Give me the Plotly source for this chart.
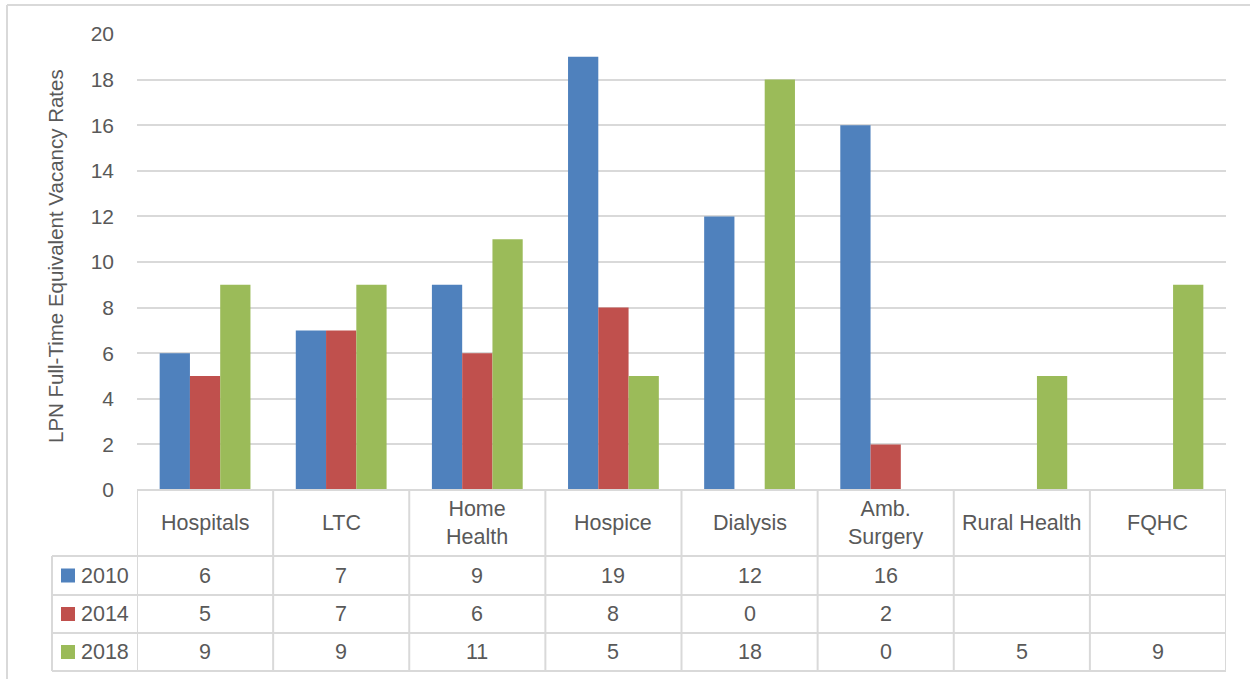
import plotly.graph_objects as go

# Facility categories (axis / table header labels)
categories = ["Hospitals", "LTC", "Home Health", "Hospice", "Dialysis",
              "Amb. Surgery", "Rural Health", "FQHC"]
header_labels = ["Hospitals", "LTC", "Home<br>Health", "Hospice", "Dialysis",
                 "Amb.<br>Surgery", "Rural Health", "FQHC"]

# LPN full-time equivalent vacancy rates per survey year
years = ["2010", "2014", "2018"]
rates_2010 = [6, 7, 9, 19, 12, 16, None, None]
rates_2014 = [5, 7, 6, 8, 0, 2, None, None]
rates_2018 = [9, 9, 11, 5, 18, 0, 5, 9]
series = [rates_2010, rates_2014, rates_2018]
colors = ["#4F81BD", "#C0504D", "#9BBB59"]

y_ticks = list(range(0, 21, 2))

W, H = 1250, 679
L, R, T, B = 137, 24, 34, 189
PH = H - T - B          # plot height in px
PW = W - L - R          # plot width in px
FONT = "Liberation Sans, Arial, sans-serif"
TXT = "#595959"
GRID = "#d9d9d9"
TABLE_SIZE = 21.5
TICK_SIZE = 21
TITLE_SIZE = 20.5


def py(p):
    """pixel row -> paper y"""
    return (H - B - p) / PH


def px(q):
    """pixel column -> paper x"""
    return (q - L) / PW


fig = go.Figure()
for name, vals, col in zip(years, series, colors):
    fig.add_trace(go.Bar(
        x=categories, y=vals, name=name,
        marker=dict(color=col, line=dict(width=0)),
        showlegend=False,
    ))

shapes = []
annotations = []

# data table rows (pixel rows of horizontal rules)
row_lines = [556, 595, 633, 671]
header_top = H - B
line_style = dict(color=GRID, width=2)

# horizontal rules, including the legend column
for p in row_lines:
    shapes.append(dict(type="line", xref="paper", yref="paper",
                       x0=px(52), x1=1, y0=py(p), y1=py(p), line=line_style))
# header row top (axis baseline)
shapes.append(dict(type="line", xref="paper", yref="paper",
                   x0=0, x1=1, y0=py(header_top), y1=py(header_top),
                   line=line_style))
# vertical rules between categories
for i in range(len(categories) + 1):
    shapes.append(dict(type="line", xref="x", yref="paper",
                       x0=i - 0.5, x1=i - 0.5,
                       y0=py(header_top), y1=py(row_lines[-1]),
                       line=line_style))
# legend column left rule
shapes.append(dict(type="line", xref="paper", yref="paper",
                   x0=px(52), x1=px(52), y0=py(row_lines[0]), y1=py(row_lines[-1]),
                   line=line_style))

# header labels
for cat, lab in zip(categories, header_labels):
    annotations.append(dict(x=cat, xref="x", y=py((header_top + row_lines[0]) / 2),
                            yref="paper", text=lab, showarrow=False,
                            font=dict(family=FONT, size=TABLE_SIZE, color=TXT),
                            xanchor="center", yanchor="middle"))

# value rows with legend keys
for r, (name, vals, col) in enumerate(zip(years, series, colors)):
    top, bot = row_lines[r], row_lines[r + 1]
    mid = (top + bot) / 2
    shapes.append(dict(type="rect", xref="paper", yref="paper",
                       x0=px(61), x1=px(75), y0=py(mid - 7), y1=py(mid + 7),
                       fillcolor=col, line=dict(width=0)))
    annotations.append(dict(x=px(79), xref="paper", y=py(mid), yref="paper",
                            text=name, showarrow=False,
                            font=dict(family=FONT, size=TABLE_SIZE, color=TXT),
                            xanchor="left", yanchor="middle"))
    for cat, v in zip(categories, vals):
        if v is None:
            continue
        annotations.append(dict(x=cat, xref="x", y=py(mid), yref="paper",
                                text=str(v), showarrow=False,
                                font=dict(family=FONT, size=TABLE_SIZE, color=TXT),
                                xanchor="center", yanchor="middle"))

# y-axis title
annotations.append(dict(x=px(56), xref="paper", y=py(256), yref="paper",
                        text="LPN Full-Time Equivalent Vacancy Rates",
                        textangle=-90, showarrow=False,
                        font=dict(family=FONT, size=TITLE_SIZE, color=TXT),
                        xanchor="center", yanchor="middle"))

# chart-area border
shapes.append(dict(type="line", xref="paper", yref="paper",
                   x0=px(7), x1=px(W + 5), y0=py(5), y1=py(5),
                   line=dict(color=GRID, width=2)))
shapes.append(dict(type="line", xref="paper", yref="paper",
                   x0=px(7), x1=px(7), y0=py(5), y1=py(H + 5),
                   line=dict(color=GRID, width=2)))

fig.update_layout(
    width=W, height=H,
    margin=dict(l=L, r=R, t=T, b=B, pad=0),
    paper_bgcolor="white", plot_bgcolor="white",
    barmode="group", bargap=0.333, bargroupgap=0,
    font=dict(family=FONT, size=TICK_SIZE, color=TXT),
    xaxis=dict(type="category", categoryorder="array", categoryarray=categories,
               range=[-0.5, len(categories) - 0.5],
               showticklabels=False, showgrid=False, zeroline=False,
               showline=False, ticks=""),
    yaxis=dict(range=[0, 20], tickvals=y_ticks, showgrid=True,
               gridcolor=GRID, gridwidth=2, zeroline=False, showline=False,
               ticks="", ticklabelstandoff=22,
               tickfont=dict(family=FONT, size=TICK_SIZE, color=TXT)),
    shapes=shapes,
    annotations=annotations,
)

fig.write_html("out.html")
